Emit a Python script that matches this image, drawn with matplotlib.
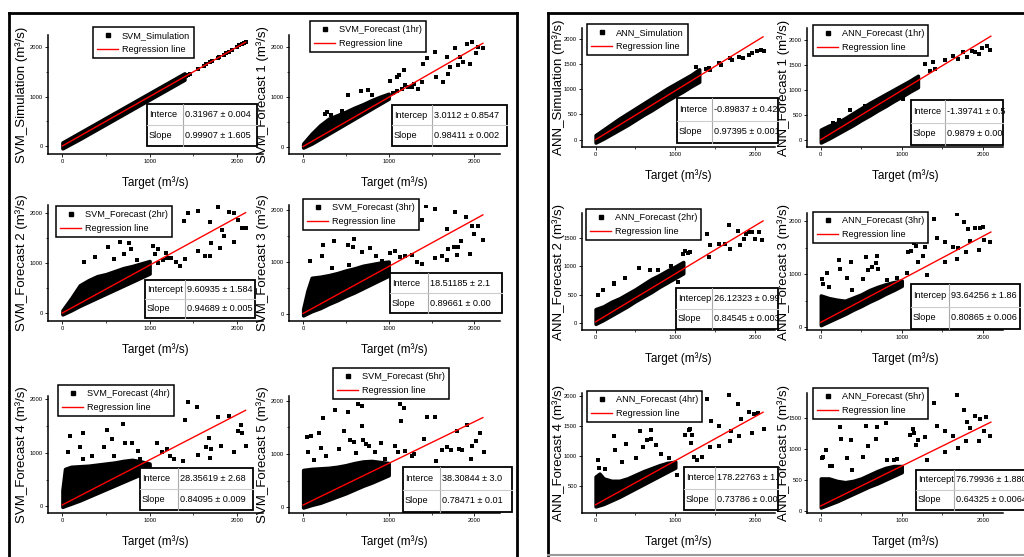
import matplotlib
matplotlib.use('Agg')
import matplotlib.pyplot as plt
from matplotlib.lines import Line2D
from matplotlib.patches import Rectangle

plt.rcParams['font.family'] = ['Liberation Sans', 'DejaVu Sans']

W, H = 1024, 557

# ----------------------- data ---------------------------------------------
svm_sim_bx = [0, 200, 400, 600, 800, 1000, 1200, 1400]
svm_sim_lo = [-50, 140, 340, 540, 740, 940, 1140, 1340]
svm_sim_hi = [70, 270, 470, 670, 870, 1070, 1270, 1470]
svm_sim_px = [1420, 1440, 1460, 1550, 1620, 1650, 1690, 1710, 1780, 1800, 1850, 1880, 1910, 1950, 2000, 2030, 2060, 2080, 2100]
svm_sim_py = [1415, 1440, 1455, 1555, 1615, 1650, 1695, 1710, 1785, 1800, 1850, 1885, 1905, 1950, 2000, 2035, 2060, 2085, 2105]

svm_f1_bx = [0, 100, 200, 300, 400, 500, 600, 700, 800, 900, 1000]
svm_f1_lo = [-20, 60, 160, 260, 360, 460, 560, 660, 760, 860, 960]
svm_f1_hi = [60, 260, 430, 560, 630, 700, 780, 850, 930, 1000, 1060]
svm_f1_px = [523, 673, 762, 808, 1019, 1096, 1115, 1173, 1192, 1269, 1346, 1385, 1404, 1442, 1538, 1558, 1635, 1685, 1692, 1712,
             1769, 1808, 1827, 1865, 1915, 1954, 1969, 2019, 2038, 2096, 1050, 1100, 1150, 1230, 1300, 250, 280, 330, 450]
svm_f1_py = [1027, 1107, 1128, 1040, 1309, 1396, 1443, 1530, 1228, 1195, 1148, 1295, 1664, 1765, 1899, 1396, 1295, 1799, 1463, 1597,
             1966, 1631, 1799, 1698, 2047, 1664, 2101, 1866, 2000, 1966, 1080, 1120, 1160, 1200, 1250, 660, 690, 640, 720]

svm_f2_bx = [0, 100, 200, 300, 400, 500, 600, 700, 800, 900, 1000]
svm_f2_lo = [-20, 60, 150, 230, 310, 390, 470, 550, 630, 710, 790]
svm_f2_hi = [60, 300, 560, 660, 740, 780, 840, 900, 940, 990, 1040]
svm_f2_px = [250, 377, 527, 596, 665, 712, 762, 788, 858, 1038, 1058, 1096, 1192, 1250, 1308, 1346, 1396, 1404, 1442, 1550,
             1558, 1635, 1688, 1696, 1704, 1781, 1808, 1827, 1858, 1915, 1962, 1973, 2019, 2058, 2108, 1100, 1150, 1200]
svm_f2_py = [1023, 1127, 1316, 1088, 1414, 1173, 1400, 1283, 1062, 1335, 1173, 1270, 1205, 1107, 1010, 945, 1824, 1075, 1987, 2039,
             1238, 1140, 1805, 1140, 1388, 2104, 1290, 1648, 1544, 2020, 1414, 1987, 1857, 1694, 1694, 1000, 1050, 1090]

svm_f3_bx = [0, 50, 100, 200, 300, 400, 500, 600, 700, 800, 900, 1000]
svm_f3_lo = [-20, 20, 60, 120, 200, 270, 350, 420, 500, 580, 660, 740]
svm_f3_hi = [100, 450, 700, 720, 750, 790, 840, 880, 930, 960, 990, 1010]
svm_f3_px = [85, 223, 238, 338, 365, 519, 538, 577, 596, 692, 777, 846, 923, 1019, 1077, 1135, 1185, 1269, 1327, 1385,
             1392, 1435, 1538, 1546, 1623, 1677, 1681, 1692, 1762, 1777, 1800, 1815, 1846, 1904, 1954, 1969, 2000, 2038, 2096]
svm_f3_py = [1019, 1119, 1321, 893, 1396, 1333, 943, 1289, 1447, 1195, 1270, 1119, 1019, 1164, 1208, 1101, 1119, 1132, 1006, 956,
             1811, 2075, 2013, 1082, 1119, 1635, 1038, 1245, 1289, 1962, 1132, 1289, 1396, 1855, 1145, 1698, 1541, 1698, 1415]

svm_f4_bx = [0, 30, 100, 200, 300, 400, 500, 600, 700, 800, 900, 1000]
svm_f4_lo = [-10, 10, 50, 110, 180, 250, 320, 390, 460, 530, 600, 680]
svm_f4_hi = [300, 700, 740, 750, 760, 780, 800, 820, 850, 870, 840, 800]
svm_f4_px = [65, 92, 200, 231, 238, 335, 477, 515, 569, 592, 700, 723, 796, 862, 885, 1085, 1142, 1200, 1238, 1277,
             1385, 1400, 1438, 1546, 1554, 1642, 1681, 1692, 1700, 1785, 1815, 1912, 1962, 2008, 2046, 2054, 2104]
svm_f4_py = [1025, 1317, 1106, 882, 1379, 944, 1118, 1429, 1261, 944, 1540, 1193, 1193, 1037, 882, 1193, 1025, 1068, 932, 882,
             839, 1615, 1957, 1851, 963, 1106, 1273, 901, 1068, 1677, 1130, 1689, 1025, 1416, 1522, 1379, 1130]

svm_f5_bx = [0, 100, 200, 300, 400, 500, 600, 700, 800, 900, 1000]
svm_f5_lo = [-10, 40, 80, 140, 200, 260, 330, 400, 460, 530, 600]
svm_f5_hi = [700, 720, 730, 740, 760, 790, 830, 860, 870, 850, 830]
svm_f5_px = [50, 88, 62, 127, 185, 204, 231, 262, 377, 415, 473, 519, 550, 600, 615, 646, 692, 692, 704, 731,
             769, 838, 908, 962, 1077, 1108, 1127, 1138, 1177, 1192, 1269, 1300, 1408, 1442, 1538, 1550, 1627, 1677, 1723, 1792,
             1819, 1858, 1915, 1962, 1977, 2015, 2062, 2108]
svm_f5_py = [1329, 1348, 1037, 894, 1391, 1118, 1677, 957, 1826, 1099, 1429, 1783, 1255, 1224, 1019, 1938, 1907, 1534, 1267, 1180,
             1143, 1037, 1205, 913, 1143, 1037, 1938, 1627, 1863, 1056, 957, 1006, 1286, 1689, 1689, 870, 1068, 1130, 1068, 1429,
             1099, 1081, 1553, 913, 1143, 1242, 1391, 1037]

ann_sim_bx = [0, 100, 200, 300, 400, 500, 600, 700, 800, 900, 1000, 1100, 1200, 1300]
ann_sim_lo = [-60, 20, 110, 200, 290, 390, 490, 580, 680, 780, 870, 960, 1060, 1150]
ann_sim_hi = [90, 200, 310, 420, 520, 620, 720, 820, 920, 1020, 1110, 1200, 1290, 1400]
ann_sim_px = [1258, 1300, 1381, 1423, 1440, 1546, 1567, 1691, 1711, 1794, 1843, 1918, 1959, 2021, 2074, 2115]
ann_sim_py = [1453, 1300, 1400, 1420, 1380, 1520, 1487, 1620, 1587, 1640, 1620, 1687, 1720, 1753, 1787, 1753]

ann_f1_bx = [0, 100, 200, 300, 400, 500, 600, 700, 800, 900, 1000, 1100, 1200]
ann_f1_lo = [-60, 20, 110, 200, 290, 390, 480, 580, 670, 770, 860, 960, 1050]
ann_f1_hi = [200, 280, 340, 430, 530, 630, 730, 820, 910, 1000, 1090, 1180, 1280]
ann_f1_px = [362, 547, 700, 1021, 1288, 1391, 1412, 1350, 1535, 1638, 1700, 1761, 1802, 1864, 1905, 1959, 1988, 2049, 2091, 150, 230]
ann_f1_py = [597, 678, 760, 814, 1512, 1559, 1410, 1380, 1600, 1668, 1613, 1749, 1647, 1783, 1763, 1715, 1830, 1885, 1803, 330, 400]

ann_f2_bx = [0, 100, 200, 300, 400, 500, 600, 700, 800, 900, 1000, 1100]
ann_f2_lo = [-10, 60, 140, 220, 300, 390, 470, 550, 640, 720, 800, 880]
ann_f2_hi = [250, 300, 380, 440, 520, 600, 690, 780, 850, 930, 1000, 1080]
ann_f2_px = [29, 95, 227, 235, 371, 548, 680, 784, 948, 1031, 1101, 1126, 1155, 1184, 1402, 1423, 1431, 1546, 1629, 1678,
             1691, 1786, 1815, 1856, 1885, 1926, 1967, 2000, 2049, 2091]
ann_f2_py = [497, 585, 690, 713, 789, 982, 947, 936, 1006, 731, 1228, 1275, 1240, 1257, 1579, 1170, 1374, 1392, 1404, 1725,
             1316, 1626, 1374, 1491, 1579, 1608, 1608, 1491, 1608, 1462]

ann_f3_bx = [0, 100, 200, 300, 400, 500, 600, 700, 800, 900, 1000]
ann_f3_lo = [40, 110, 180, 250, 330, 400, 480, 550, 630, 700, 780]
ann_f3_hi = [600, 550, 520, 500, 560, 620, 700, 760, 810, 850, 880]
ann_f3_px = [21, 33, 82, 107, 230, 239, 329, 370, 383, 519, 560, 588, 630, 683, 700, 712, 823, 938, 1062, 1082,
             1111, 1123, 1152, 1177, 1206, 1259, 1288, 1317, 1399, 1432, 1535, 1535, 1630, 1679, 1679, 1700, 1774, 1794, 1815, 1844,
             1905, 1959, 1967, 2008, 2016, 2091]
ann_f3_py = [913, 807, 1019, 758, 1267, 1099, 932, 1236, 708, 913, 1329, 1081, 1143, 1205, 1348, 1099, 894, 932, 1019, 1410,
             1441, 1627, 1578, 1534, 1224, 1348, 1503, 975, 2031, 1677, 1596, 1224, 1516, 1286, 2137, 1491, 1988, 1410, 1845, 1627,
             1876, 1453, 1863, 1888, 1640, 1596]

ann_f4_bx = [0, 50, 100, 200, 300, 400, 500, 600, 700, 800, 900, 1000]
ann_f4_lo = [150, 170, 190, 250, 310, 380, 450, 520, 590, 660, 730, 800]
ann_f4_hi = [650, 700, 620, 580, 580, 620, 680, 740, 790, 840, 880, 900]
ann_f4_px = [29, 41, 124, 227, 247, 330, 384, 507, 557, 598, 648, 689, 701, 763, 825, 920, 1019, 1113, 1126, 1167,
             1184, 1196, 1208, 1237, 1278, 1332, 1402, 1431, 1443, 1546, 1546, 1678, 1691, 1703, 1786, 1802, 1827, 1918, 1959, 1992,
             2041, 2115]
ann_f4_py = [933, 794, 778, 1322, 1100, 889, 1200, 961, 1406, 1144, 1256, 1278, 1422, 1183, 1033, 961, 672, 1656, 1350, 1433,
             1444, 1211, 1350, 978, 933, 978, 1944, 1144, 1589, 1500, 1167, 2017, 1239, 1406, 1867, 1322, 1622, 1733, 1372, 1706,
             1717, 1444]

ann_f5_bx = [0, 100, 200, 300, 400, 500, 600, 700, 800, 900, 1000]
ann_f5_lo = [50, 100, 150, 210, 270, 330, 390, 440, 500, 560, 620]
ann_f5_hi = [520, 520, 480, 460, 480, 520, 580, 640, 690, 720, 720]
ann_f5_px = [21, 33, 66, 115, 136, 239, 247, 329, 370, 383, 519, 560, 588, 683, 700, 807, 815, 905, 947, 1103,
             1111, 1136, 1152, 1177, 1206, 1288, 1317, 1399, 1432, 1535, 1535, 1630, 1679, 1700, 1770, 1794, 1802, 1844, 1905, 1959,
             1967, 2016, 2041, 2091]
ann_f5_py = [849, 866, 984, 715, 726, 1349, 1156, 849, 1134, 661, 866, 1371, 1038, 1156, 1349, 1414, 823, 823, 833, 1226,
             1532, 1317, 1253, 1065, 1134, 1188, 823, 1737, 1371, 1280, 941, 1210, 1871, 1011, 1618, 1118, 1425, 1333, 1532, 1118,
             1478, 1280, 1505, 1210]

legend_names = ['SVM_Simulation', 'SVM_Forecast (1hr)', 'SVM_Forecast (2hr)', 'SVM_Forecast (3hr)',
                'SVM_Forecast (4hr)', 'SVM_Forecast (5hr)',
                'ANN_Simulation', 'ANN_Forecast (1hr)', 'ANN_Forecast (2hr)', 'ANN_Forecast (3hr)',
                'ANN_Forecast (4hr)', 'ANN_Forecast (5hr)']
ylabels = ['SVM_Simulation (m³/s)', 'SVM_Forecast 1 (m³/s)', 'SVM_Forecast 2 (m³/s)', 'SVM_Forecast 3 (m³/s)',
           'SVM_Forecast 4 (m³/s)', 'SVM_Forecast 5 (m³/s)',
           'ANN_Simulation (m³/s)', 'ANN_Forecast 1 (m³/s)', 'ANN_Forecast 2 (m³/s)', 'ANN_Forecast 3 (m³/s)',
           'ANN_Forecast 4 (m³/s)', 'ANN_Forecast 5 (m³/s)']
intercepts = [0.31967, 3.0112, 9.60935, 18.51185, 28.35619, 38.30844,
              -0.89837, -1.39741, 26.12323, 93.64256, 178.22763, 76.79936]
slopes = [0.99907, 0.98411, 0.94689, 0.89661, 0.84095, 0.78471,
          0.97395, 0.9879, 0.84545, 0.80865, 0.73786, 0.64325]
icpt_names = ['Interce', 'Intercep', 'Intercept', 'Interce', 'Interce', 'Interce',
              'Interce', 'Interce', 'Intercep', 'Intercep', 'Interce', 'Intercept']
icpt_text = ['0.31967 ± 0.004', '3.0112 ± 0.8547', '9.60935 ± 1.584', '18.51185 ± 2.1', '28.35619 ± 2.68', '38.30844 ± 3.0',
             '-0.89837 ± 0.42', '-1.39741 ± 0.5', '26.12323 ± 0.99', '93.64256 ± 1.86', '178.22763 ± 1.', '76.79936 ± 1.880']
slope_text = ['0.99907 ± 1.605', '0.98411 ± 0.002', '0.94689 ± 0.005', '0.89661 ± 0.00', '0.84095 ± 0.009', '0.78471 ± 0.01',
              '0.97395 ± 0.001', '0.9879 ± 0.00', '0.84545 ± 0.003', '0.80865 ± 0.006', '0.73786 ± 0.00', '0.64325 ± 0.0064']

bands = [(svm_sim_bx, svm_sim_lo, svm_sim_hi), (svm_f1_bx, svm_f1_lo, svm_f1_hi), (svm_f2_bx, svm_f2_lo, svm_f2_hi),
         (svm_f3_bx, svm_f3_lo, svm_f3_hi), (svm_f4_bx, svm_f4_lo, svm_f4_hi), (svm_f5_bx, svm_f5_lo, svm_f5_hi),
         (ann_sim_bx, ann_sim_lo, ann_sim_hi), (ann_f1_bx, ann_f1_lo, ann_f1_hi), (ann_f2_bx, ann_f2_lo, ann_f2_hi),
         (ann_f3_bx, ann_f3_lo, ann_f3_hi), (ann_f4_bx, ann_f4_lo, ann_f4_hi), (ann_f5_bx, ann_f5_lo, ann_f5_hi)]
points = [(svm_sim_px, svm_sim_py), (svm_f1_px, svm_f1_py), (svm_f2_px, svm_f2_py), (svm_f3_px, svm_f3_py),
          (svm_f4_px, svm_f4_py), (svm_f5_px, svm_f5_py), (ann_sim_px, ann_sim_py), (ann_f1_px, ann_f1_py),
          (ann_f2_px, ann_f2_py), (ann_f3_px, ann_f3_py), (ann_f4_px, ann_f4_py), (ann_f5_px, ann_f5_py)]

# ----------------------- layout (pixels) ------------------------
cols = [(48, 263), (289, 500), (48, 263), (289, 500), (48, 263), (289, 500),
        (582, 775), (807, 1003), (582, 775), (807, 1003), (582, 775), (807, 1003)]
rows = [(35, 154), (35, 154), (205, 321), (205, 321), (396, 513), (396, 513),
        (28, 147), (28, 147), (213, 330), (213, 330), (393, 513), (393, 513)]
ylims = [(-163, 2245), (-148, 2235), (-150, 2150), (-126, 2090), (-124, 2062), (-112, 2093),
         (-147, 2220), (-149, 2237), (-117, 1941), (-50, 2150), (40, 2050), (-38, 1898)]
yticks = [[0, 1000, 2000]] * 6 + [[0, 500, 1000, 1500, 2000], [0, 500, 1000, 1500, 2000], [0, 500, 1000, 1500],
                                   [0, 1000, 2000], [500, 1000, 1500, 2000], [0, 500, 1000, 1500]]
ymin_ticks = [[500, 1500]] * 6 + [[], [], [], [500, 1500], [], []]
legend_pos = [(93, 27), (310, 21), (56, 206), (303, 199), (58, 385), (333, 368),
              (587, 24), (813, 25), (586, 209), (813, 212), (587, 391), (813, 388)]
table_pos = [(147, 104, 183, 257, 146), (392, 105, 432, 507, 146), (145, 280, 185, 255, 318),
             (390, 273, 428, 502, 313), (140, 468, 178, 253, 510), (403, 467, 440, 512, 512),
             (677, 98, 712, 778, 143), (911, 100, 945, 1003, 145), (676, 288, 712, 778, 329),
             (911, 284, 949, 1020, 329), (684, 467, 715, 778, 510), (916, 470, 954, 1040, 510)]
ylabel_gap = [26] * 6 + [23] * 6

fig = plt.figure(figsize=(W / 100, H / 100), dpi=100)


def fx(px):
    return px / W


def fy(py):
    return 1 - py / H


# outer frames
fig.add_artist(Line2D([fx(9), fx(9)], [fy(13), fy(560)], color='black', lw=2))
fig.add_artist(Line2D([fx(9), fx(517)], [fy(13), fy(13)], color='black', lw=2))
fig.add_artist(Line2D([fx(517), fx(517)], [fy(13), fy(560)], color='black', lw=2))
fig.add_artist(Line2D([fx(548), fx(548)], [fy(13), fy(555)], color='black', lw=2))
fig.add_artist(Line2D([fx(548), fx(1030)], [fy(13), fy(13)], color='black', lw=2))
fig.add_artist(Line2D([fx(548), fx(1030)], [fy(555), fy(555)], color='#999999', lw=1.5))

for i in range(12):
    x0, x1 = cols[i]
    y0, y1 = rows[i]
    ax = fig.add_axes([fx(x0), fy(y1), (x1 - x0) / W, (y1 - y0) / H])
    bx, lo, hi = bands[i]
    ax.fill_between(bx, lo, hi, color='black', lw=2.5, edgecolor='black')
    px, py = points[i]
    ax.scatter(px, py, marker='s', s=7, color='black', lw=0)
    ax.plot([0, 2100], [intercepts[i], intercepts[i] + slopes[i] * 2100], color='red', lw=1)

    ax.set_xlim(-165 if i < 6 else -170, 2300 if i < 6 else 2250)
    ax.set_ylim(*ylims[i])
    ax.set_xticks([0, 1000, 2000])
    ax.set_xticks([500, 1500], minor=True)
    ax.set_yticks(yticks[i])
    ax.set_yticks(ymin_ticks[i], minor=True)
    ax.tick_params(labelsize=4.2, length=2, width=0.6, pad=1.5)
    ax.tick_params(which='minor', length=1.5, width=0.5)
    for s in ['top', 'right']:
        ax.spines[s].set_visible(False)
    for s in ['left', 'bottom']:
        ax.spines[s].set_linewidth(1.1)

    fig.text(fx((x0 + x1) / 2), fy(y1 + 29), 'Target (m³/s)', ha='center', va='center', fontsize=8.5)
    fig.text(fx(x0 - ylabel_gap[i]), fy((y0 + y1) / 2), ylabels[i], rotation=90, ha='center', va='center', fontsize=9.5)

    handles = [Line2D([], [], marker='s', ls='none', color='black', markersize=2.5),
               Line2D([], [], color='red', lw=1)]
    lx, ly = legend_pos[i]
    leg = ax.legend(handles, [legend_names[i], 'Regression line'], loc='upper left',
                    bbox_to_anchor=(fx(lx), fy(ly)), bbox_transform=fig.transFigure,
                    fontsize=6.6, frameon=True, fancybox=False, edgecolor='black', framealpha=1,
                    borderpad=0.45, borderaxespad=0, handlelength=2.3, handletextpad=0.4, labelspacing=0.55)
    leg.get_frame().set_linewidth(1.1)
    leg.set_zorder(10)

    # stats table
    tx0, ty0, tdiv, tx1, ty1 = table_pos[i]
    tmid = (ty0 + ty1) / 2
    fig.add_artist(Rectangle((fx(tx0), fy(ty1)), (tx1 - tx0) / W, (ty1 - ty0) / H,
                             facecolor='white', edgecolor='black', lw=1.3, zorder=5))
    fig.add_artist(Line2D([fx(tdiv), fx(tdiv)], [fy(ty0), fy(ty1)], color='#aaaaaa', lw=0.8, zorder=6))
    fig.add_artist(Line2D([fx(tx0), fx(tx1)], [fy(tmid), fy(tmid)], color='#cccccc', lw=0.8, zorder=6))
    fig.text(fx(tx0 + 2), fy((ty0 + tmid) / 2), icpt_names[i], ha='left', va='center', fontsize=6.6, zorder=7)
    fig.text(fx(tx0 + 2), fy((tmid + ty1) / 2), 'Slope', ha='left', va='center', fontsize=6.6, zorder=7)
    fig.text(fx(tdiv + 2), fy((ty0 + tmid) / 2), icpt_text[i], ha='left', va='center', fontsize=6.6, zorder=7)
    fig.text(fx(tdiv + 2), fy((tmid + ty1) / 2), slope_text[i], ha='left', va='center', fontsize=6.6, zorder=7)

fig.savefig('out.png', dpi=100)
